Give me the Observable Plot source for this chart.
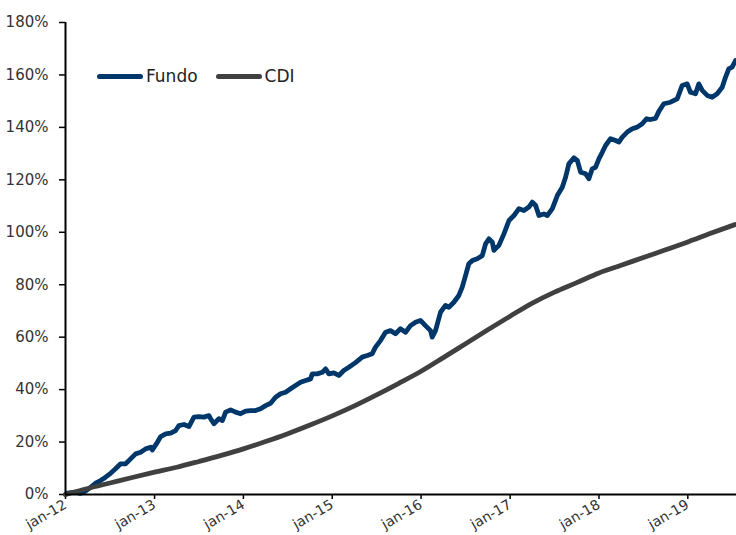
<!DOCTYPE html>
<html>
<head>
<meta charset="utf-8">
<script src="https://cdn.jsdelivr.net/npm/d3@7"></script>
<script src="https://cdn.jsdelivr.net/npm/@observablehq/plot@0.6"></script>
<style>
  html, body { margin: 0; padding: 0; background: #fff; }
  #wrap { position: relative; width: 736px; height: 535px; font-family: "DejaVu Sans", sans-serif; }
  #legend { position: absolute; left: 97px; top: 66px; display: flex; align-items: center; font-size: 17px; color: #222; }
  .sw { display: inline-block; width: 46px; height: 5px; border-radius: 3px; margin-right: 3px; }
  .item { display: flex; align-items: center; margin-right: 18px; }
</style>
</head>
<body>
<div id="wrap"></div>
<script>
// ---- data ----
const seriesNames = ["Fundo", "CDI"];
const seriesColors = ["#00376b", "#404040"];

const fundoYear = [2012.000, 2012.019, 2012.112, 2012.169, 2012.225, 2012.281, 2012.337, 2012.394, 2012.450, 2012.506, 2012.562, 2012.619, 2012.675, 2012.731, 2012.787, 2012.844, 2012.900, 2012.956, 2012.975, 2013.031, 2013.069, 2013.125, 2013.181, 2013.237, 2013.274, 2013.331, 2013.387, 2013.443, 2013.499, 2013.556, 2013.612, 2013.631, 2013.668, 2013.724, 2013.763, 2013.800, 2013.856, 2013.912, 2013.968, 2014.025, 2014.081, 2014.137, 2014.193, 2014.250, 2014.306, 2014.362, 2014.418, 2014.475, 2014.531, 2014.587, 2014.643, 2014.700, 2014.756, 2014.775, 2014.831, 2014.888, 2014.925, 2014.962, 2015.018, 2015.074, 2015.130, 2015.187, 2015.262, 2015.337, 2015.394, 2015.450, 2015.487, 2015.543, 2015.600, 2015.656, 2015.712, 2015.768, 2015.825, 2015.881, 2015.937, 2015.993, 2016.049, 2016.106, 2016.125, 2016.162, 2016.218, 2016.274, 2016.312, 2016.368, 2016.424, 2016.462, 2016.499, 2016.536, 2016.575, 2016.631, 2016.687, 2016.724, 2016.762, 2016.800, 2016.818, 2016.874, 2016.930, 2016.987, 2017.043, 2017.099, 2017.155, 2017.211, 2017.250, 2017.287, 2017.324, 2017.380, 2017.418, 2017.475, 2017.531, 2017.587, 2017.624, 2017.661, 2017.718, 2017.756, 2017.793, 2017.849, 2017.886, 2017.924, 2017.962, 2017.999, 2018.037, 2018.074, 2018.130, 2018.187, 2018.224, 2018.262, 2018.318, 2018.375, 2018.431, 2018.487, 2018.535, 2018.580, 2018.636, 2018.674, 2018.730, 2018.805, 2018.880, 2018.937, 2018.993, 2019.030, 2019.087, 2019.124, 2019.162, 2019.218, 2019.274, 2019.330, 2019.387, 2019.424, 2019.461, 2019.499, 2019.537];

const fundoValue = [0, 0.5, 0.9, 0.4, 1.3, 2.7, 4.3, 5.3, 6.6, 8.1, 9.8, 11.7, 11.7, 13.6, 15.5, 16.1, 17.4, 18.0, 17.0, 19.9, 22.1, 23.1, 23.4, 24.4, 26.3, 26.7, 25.9, 29.5, 29.7, 29.5, 30.1, 28.9, 27.0, 28.9, 28.2, 31.4, 32.3, 31.4, 30.8, 31.8, 32.0, 32.0, 32.7, 33.9, 34.8, 37.1, 38.4, 39.0, 40.3, 41.6, 42.8, 43.5, 44.1, 46.0, 46.0, 46.6, 47.9, 46.0, 46.4, 45.4, 47.3, 48.5, 50.3, 52.4, 53.0, 53.7, 56.2, 58.7, 61.9, 62.5, 61.3, 63.2, 61.9, 64.4, 65.7, 66.4, 64.4, 62.5, 60.0, 62.5, 69.5, 72.1, 71.4, 73.3, 75.9, 79.1, 83.5, 88.0, 89.2, 89.9, 91.1, 95.6, 97.5, 96.2, 93.1, 95.0, 99.4, 104.5, 106.4, 109.0, 108.3, 109.6, 111.5, 110.2, 106.4, 107.0, 106.4, 109.0, 114.0, 117.2, 121.0, 126.1, 128.4, 127.4, 122.9, 122.3, 120.4, 124.2, 124.8, 128.0, 130.5, 133.1, 135.7, 135.0, 134.4, 136.3, 138.2, 139.5, 140.1, 141.4, 143.3, 143.0, 143.4, 146.1, 149.0, 149.6, 150.9, 156.0, 156.6, 153.4, 152.8, 156.6, 154.1, 152.2, 151.5, 152.8, 155.3, 159.1, 162.3, 163.0, 165.5];

const cdiYear = [2012.0, 2012.25, 2012.5, 2012.75, 2013.0, 2013.25, 2013.5, 2013.75, 2014.0, 2014.25, 2014.5, 2014.75, 2015.0, 2015.25, 2015.5, 2015.75, 2016.0, 2016.25, 2016.5, 2016.75, 2017.0, 2017.25, 2017.5, 2017.75, 2018.0, 2018.25, 2018.5, 2018.75, 2019.0, 2019.25, 2019.537];
const cdiValue = [0, 2.3, 4.4, 6.5, 8.5, 10.4, 12.6, 14.9, 17.4, 20.2, 23.2, 26.5, 30.0, 33.8, 38.0, 42.4, 47.0, 52.2, 57.5, 62.8, 68.0, 73.0, 77.2, 80.8, 84.5, 87.4, 90.4, 93.3, 96.3, 99.5, 103.0];

const xTickYears = [2012, 2013, 2014, 2015, 2016, 2017, 2018, 2019];
const xTickLabels = ["jan-12", "jan-13", "jan-14", "jan-15", "jan-16", "jan-17", "jan-18", "jan-19"];
const yTicks = [0, 20, 40, 60, 80, 100, 120, 140, 160, 180];
const xStartYear = 2012.0;
const xEndYear = 2019.548;

// ---- helpers ----
function yearToDate(y) {
  const yr = Math.floor(y);
  const start = Date.UTC(yr, 0, 1), end = Date.UTC(yr + 1, 0, 1);
  return new Date(start + (y - yr) * (end - start));
}
const fundo = d3.range(Math.min(fundoYear.length, fundoValue.length)).map(i => ({date: yearToDate(fundoYear[i]), v: fundoValue[i] / 100, s: "Fundo"}));
const cdi = cdiYear.map((y, i) => ({date: yearToDate(y), v: cdiValue[i] / 100, s: "CDI"}));
const xTicks = xTickYears.map(yearToDate);
const labelOf = new Map(xTicks.map((d, i) => [+d, xTickLabels[i]]));

const chart = Plot.plot({
  width: 736,
  height: 535,
  marginLeft: 65,
  marginRight: 0,
  marginTop: 22,
  marginBottom: 41,
  style: {fontFamily: "DejaVu Sans, sans-serif", fontSize: "15px", color: "#333", background: "#fff"},
  x: {type: "utc", domain: [yearToDate(xStartYear), yearToDate(xEndYear)]},
  y: {domain: [0, 1.8]},
  marks: [
    Plot.axisY({ticks: yTicks.map(d => d / 100), tickFormat: d => Math.round(d * 100) + "%", tickSize: 6, tickPadding: 11, label: null, stroke: "#000", strokeWidth: 1.5}),
    Plot.axisX({ticks: xTicks, tickFormat: d => labelOf.get(+d), tickSize: 5, tickPadding: 4, tickRotate: -30, fontSize: 14, label: null, stroke: "#000", strokeWidth: 1.5}),
    Plot.lineY(fundo, {x: "date", y: "v", stroke: seriesColors[0], strokeWidth: 4.8, strokeLinejoin: "round", strokeLinecap: "round"}),
    Plot.lineY(cdi, {x: "date", y: "v", stroke: seriesColors[1], strokeWidth: 4.8, curve: "monotone-x", strokeLinecap: "round"}),
    Plot.ruleX([yearToDate(xStartYear)], {stroke: "#000", strokeWidth: 2}),
    Plot.ruleY([0], {stroke: "#000", strokeWidth: 2})
  ]
});

const wrap = document.getElementById("wrap");
wrap.appendChild(chart);
const legend = document.createElement("div");
legend.id = "legend";
seriesNames.forEach((n, i) => {
  const item = document.createElement("div");
  item.className = "item";
  const sw = document.createElement("span");
  sw.className = "sw";
  sw.style.background = seriesColors[i];
  const t = document.createElement("span");
  t.textContent = n;
  item.appendChild(sw); item.appendChild(t);
  legend.appendChild(item);
});
wrap.appendChild(legend);
</script>
</body>
</html>
